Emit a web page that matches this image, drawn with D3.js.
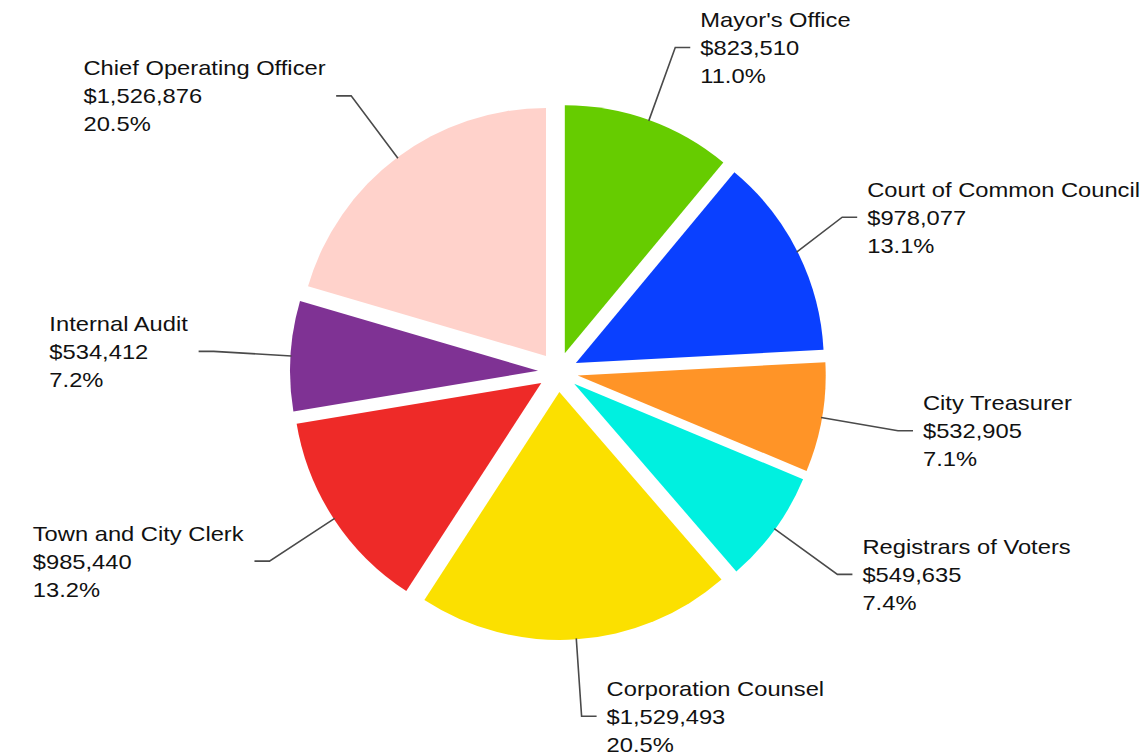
<!DOCTYPE html>
<html>
<head>
<meta charset="utf-8">
<script src="https://cdn.jsdelivr.net/npm/d3@7"></script>
<style>
  body { margin: 0; background: #fff; }
  svg text { font-family: "Liberation Sans", Arial, sans-serif; font-size: 21px; fill: #111; }
</style>
</head>
<body>
<div class="chart"></div>
<script>
// chart size
const WIDTH = 1146;
const HEIGHT = 756;

// data, clockwise from 12 o'clock
const departments = ["Mayor's Office", "Court of Common Council", "City Treasurer", "Registrars of Voters",
    "Corporation Counsel", "Town and City Clerk", "Internal Audit", "Chief Operating Officer"];
const budgets = [823510, 978077, 532905, 549635, 1529493, 985440, 534412, 1526876];
const sliceColors = ["#66cc00", "#0a40ff", "#ff9427", "#00f0e0", "#fbe000", "#ee2a28", "#7f3294", "#ffd2cb"];

const cx = 558, cy = 372;
const radius = 248;
const pull = 20;          // how far each slice is pulled out
const labelRing = 345;    // where the connector elbows sit
const lineSize = 28;
const stretch = 1.13;     // label text is drawn a bit wide in the original

const total = d3.sum(budgets);
const money = d3.format("$,");
const pct = v => (v / total * 100).toFixed(1) + "%";

const rows = departments.map((name, i) => ({ name: name, value: budgets[i], color: sliceColors[i] }));

const svg = d3.select(".chart")
    .append("svg")
    .attr("width", WIDTH)
    .attr("height", HEIGHT);

const pie = d3.pie().sort(null).value(d => d.value);
const arc = d3.arc().innerRadius(0).outerRadius(radius);
const arcs = pie(rows);

const mid = d => (d.startAngle + d.endAngle) / 2;
const polar = (a, r) => [Math.sin(a) * r, -Math.cos(a) * r];

const g = svg.append("g").attr("transform", `translate(${cx},${cy})`);

g.selectAll("path.slice")
    .data(arcs)
    .join("path")
    .attr("class", "slice")
    .attr("d", arc)
    .attr("fill", d => d.data.color)
    .attr("transform", d => {
        const p = polar(mid(d), pull);
        return `translate(${p[0]},${p[1]})`;
    });

// labels
const labels = g.selectAll("g.label")
    .data(arcs)
    .join("g")
    .attr("class", "label");

labels.each(function (d) {
    const t = d3.select(this).append("text").attr("transform", `scale(${stretch},1)`);
    [d.data.name, money(d.data.value), pct(d.data.value)].forEach((s, k) => {
        t.append("tspan").attr("x", 0).attr("y", (k - 1) * lineSize + 7.5).text(s);
    });
    d.w = t.node().getBBox().width * stretch;
    d.right = Math.sin(mid(d)) >= 0;
    const e = polar(mid(d), labelRing);
    let ex = e[0];
    // keep text inside the picture
    if (d.right && cx + ex + 25 + d.w > WIDTH - 6) ex = WIDTH - 6 - cx - 25 - d.w;
    if (!d.right && cx + ex - 25 - d.w < 8) ex = 8 - cx + 25 + d.w;
    d.elbow = [ex, e[1]];
});

labels.attr("transform", d => {
    const tx = d.right ? d.elbow[0] + 25 : d.elbow[0] - 25 - d.w;
    return `translate(${tx},${d.elbow[1]})`;
});

g.selectAll("polyline.tick")
    .data(arcs)
    .join("polyline")
    .attr("class", "tick")
    .attr("fill", "none")
    .attr("stroke", "#4a4a4a")
    .attr("stroke-width", 1.6)
    .attr("points", d => {
        const s = polar(mid(d), radius + pull - 1);
        const endX = d.right ? d.elbow[0] + 15 : d.elbow[0] - 15;
        return [s, d.elbow, [endX, d.elbow[1]]].map(p => p.join(",")).join(" ");
    });
</script>
</body>
</html>
